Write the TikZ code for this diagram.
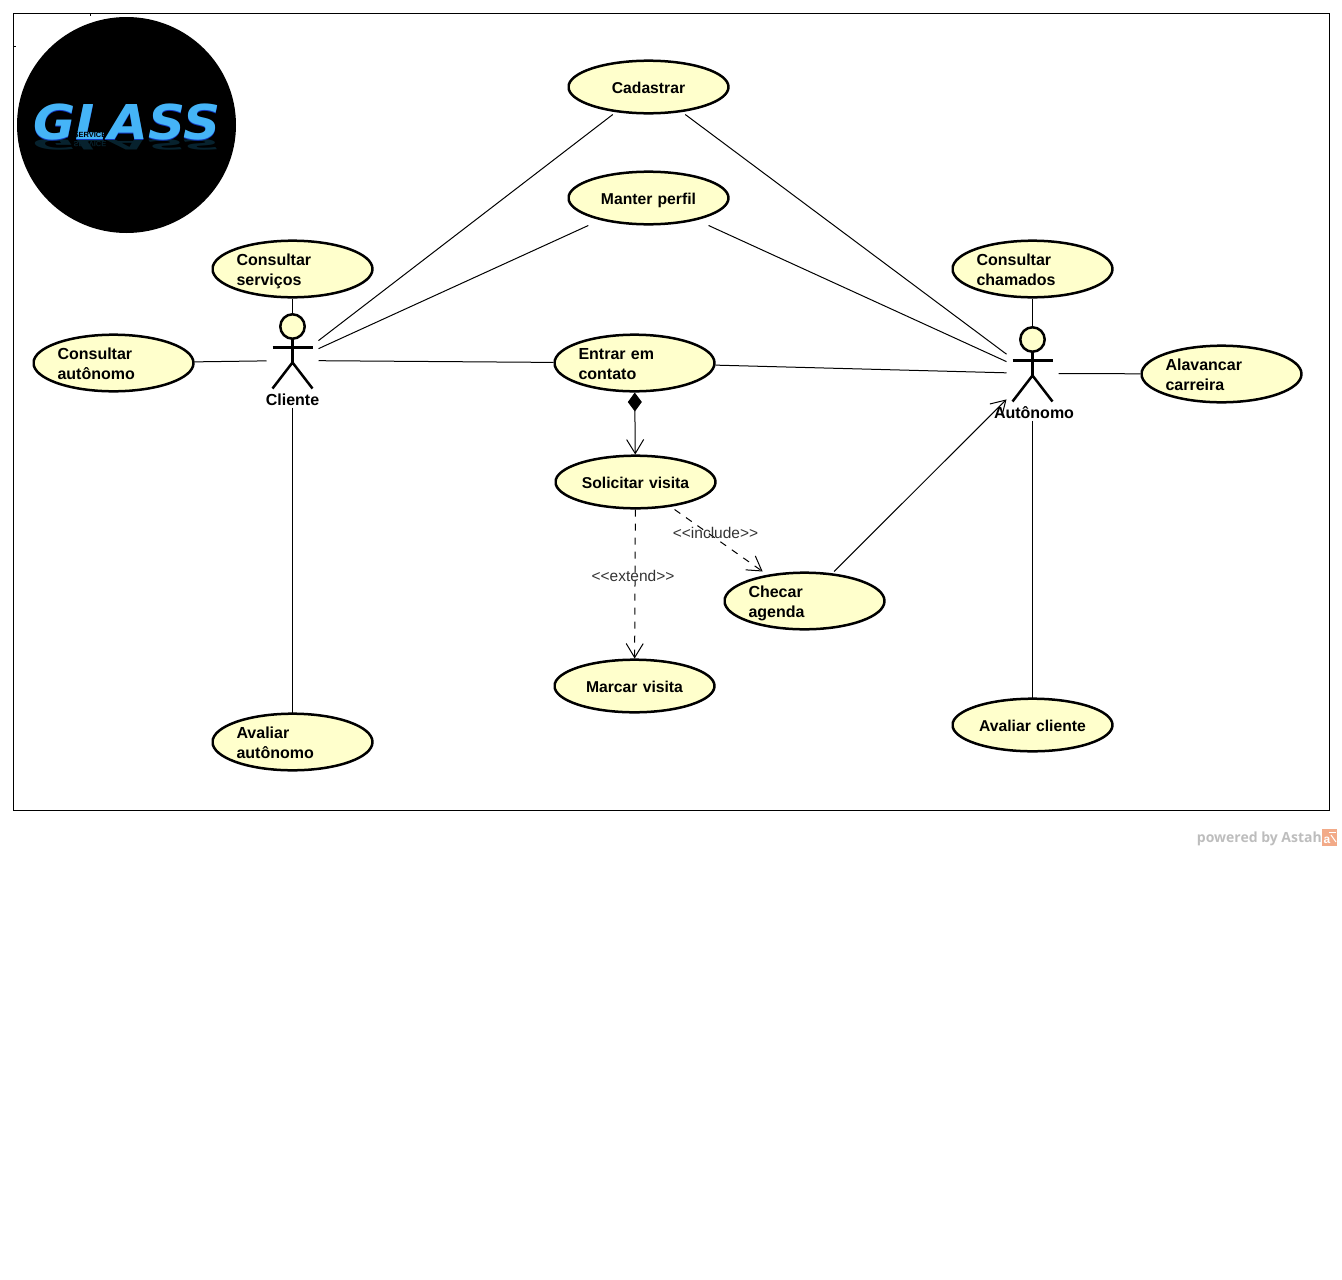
\documentclass[tikz,border=0pt]{standalone}
\usepackage{fontspec}
\setmainfont{Liberation Sans}
\newfontfamily\footfont{Open Sans}
\newfontfamily\logofont{DejaVu Sans}
\usetikzlibrary{shapes.geometric,arrows.meta}
\definecolor{casefill}{HTML}{FFFFCC}
\definecolor{glassblue}{HTML}{45B4F7}
\definecolor{glassdark}{HTML}{1238C0}
\definecolor{glassshade}{HTML}{07222E}
\definecolor{footgray}{HTML}{BDBDBD}
\definecolor{footorange}{HTML}{F2AA88}
\tikzset{
  usecase/.style={rectangle,outer sep=0pt,inner sep=0pt,minimum width=162pt,text width=112pt},
  caseone/.style={usecase,minimum height=55pt,align=center,font=\fontsize{15.7}{20}\selectfont\bfseries,
    execute at begin node={\rule[-4pt]{0pt}{21.4pt}},
    path picture={\draw[line width=2.5pt,fill=casefill] (path picture bounding box.center) ellipse (80 and 26.3);}},
  casetwo/.style={usecase,minimum height=59pt,align=left,font=\fontsize{16}{20}\selectfont\bfseries,
    execute at begin node={\rule{0pt}{17pt}},execute at end node={\rule[-4pt]{0pt}{0pt}},
    path picture={\draw[line width=2.5pt,fill=casefill] (path picture bounding box.center) ellipse (80 and 28.3);}},
  actorbox/.style={rectangle,inner sep=0pt,outer sep=0pt,minimum width=52pt,minimum height=94pt},
  actorname/.style={inner sep=0pt,font=\fontsize{16}{20}\selectfont\bfseries},
  stereotype/.style={inner sep=0pt,text=black!80,font=\fontsize{15.5}{18}\selectfont},
  assoc/.style={line width=1pt},
  openhead/.style={line width=1pt,-{Straight Barb[length=14pt,width=17pt]}},
  deppath/.style={openhead,dash pattern=on 7pt off 7pt}
}
\begin{document}
\begin{tikzpicture}[x=1pt,y=-1pt]
\useasboundingbox (0,0) rectangle (1342,1280);
% frame
\draw[line width=1pt] (13.5,13.5) rectangle (1329.5,810.5);
\draw[line width=1pt] (90.5,13.5)--(90.5,16);
\draw[line width=1pt] (13.5,46.5)--(16,46.5);
% logo
\node[ellipse,fill=black,inner sep=0pt,minimum width=219pt,minimum height=216pt] (logo) at (126.5,125) {};
\node[inner sep=0pt,text=glassshade,font=\logofont\fontsize{48}{48}\selectfont\bfseries\itshape,xscale=1.07,yscale=-0.3,transform shape] (glassmirror) at (126.5,145) {GLASS};
\node[inner sep=0pt,text=glassdark,font=\logofont\fontsize{48}{48}\selectfont\bfseries\itshape,xscale=1.07,transform shape] (glassback) at (127,123.5) {GLASS};
\node[inner sep=0pt,text=glassblue,font=\logofont\fontsize{48}{48}\selectfont\bfseries\itshape,xscale=1.07,transform shape] (glass) at (127,122.5) {GLASS};
\node[inner sep=0pt,text=black,font=\fontsize{7.5}{8}\selectfont\bfseries] (service) at (90,134.5) {SERVICE};
\node[inner sep=0pt,text=glassshade,font=\fontsize{7.5}{8}\selectfont\bfseries,yscale=-1,transform shape] (servicemirror) at (90,144) {SERVICE};
% use cases
\node[caseone] (cadastrar) at (648.5,87) {Cadastrar};
\node[caseone] (manter) at (648.5,198) {Manter perfil};
\node[casetwo] (servicos) at (292.5,269) {Consultar\\servi\c{c}os};
\node[casetwo] (consautonomo) at (113.5,363) {Consultar\\aut\^onomo};
\node[casetwo] (entrar) at (634.5,363) {Entrar em\\contato};
\node[caseone] (solicitar) at (635.5,482) {Solicitar visita};
\node[casetwo] (checar) at (804.5,601) {Checar\\agenda};
\node[caseone] (marcar) at (634.5,686) {Marcar visita};
\node[casetwo] (avalautonomo) at (292.5,742) {Avaliar\\aut\^onomo};
\node[casetwo] (chamados) at (1032.5,269) {Consultar\\chamados};
\node[casetwo] (carreira) at (1221.5,374) {Alavancar\\carreira};
\node[caseone] (avalcliente) at (1032.5,725) {Avaliar cliente};
% actors
\node[actorbox] (cliente) at (292.5,360.5) {};
\node[actorbox] (autonomo) at (1032.5,373.5) {};
\foreach \xa/\ya in {292.5/326.5,1032.5/339.5}{
  \draw[line width=2.5pt,fill=casefill] (\xa,\ya) circle (12.2);
  \draw[line width=2.5pt] (\xa-20,\ya+21)--(\xa+20,\ya+21);
  \draw[line width=2.5pt] (\xa,\ya+12)--(\xa,\ya+36);
  \draw[line width=2.5pt] (\xa-20,\ya+62)--(\xa,\ya+36)--(\xa+20,\ya+62);
}
\node[actorname] (clientename) at (292.5,400) {Cliente};
\node[actorname] (autonomoname) at (1034,413) {Aut\^onomo};
% associations
\draw[assoc] (cliente)--(cadastrar);
\draw[assoc] (cliente)--(manter);
\draw[assoc] (cliente)--(servicos);
\draw[assoc] (cliente)--(consautonomo);
\draw[assoc] (cliente)--(entrar);
\draw[assoc] (cliente)--(avalautonomo);
\draw[assoc] (autonomo)--(cadastrar);
\draw[assoc] (autonomo)--(manter);
\draw[assoc] (autonomo)--(chamados);
\draw[assoc] (autonomo)--(entrar);
\draw[assoc] (autonomo)--(carreira);
\draw[assoc] (autonomo)--(avalcliente);
\draw[openhead] (checar)--(autonomo);
\draw[line width=1pt,{Diamond[length=19pt,width=14pt]}-{Straight Barb[length=14pt,width=17pt]}] (entrar)--(solicitar);
\draw[deppath] (solicitar)--(checar);
\draw[deppath] (solicitar)--(marcar);
\node[stereotype] (includelabel) at (715.5,533) {<{}<include>{}>};
\node[stereotype] (extendlabel) at (633,576) {<{}<extend>{}>};
% footer
\node[anchor=east,inner sep=0pt,text=footgray,font=\footfont\fontsize{14}{16}\selectfont\bfseries] (powered) at (1322,839) {powered by Astah};
\node[rectangle,fill=footorange,inner sep=0pt,minimum width=15pt,minimum height=17pt,anchor=west] (astahicon) at (1322,837.5) {};
\draw[white,line width=1pt] (1329,832)--(1336,832);
\draw[white,line width=1pt] (1331,835)--(1336,842);
\node[inner sep=0pt,text=white,font=\fontsize{12}{12}\selectfont\bfseries] (astaha) at (1327,840) {a};
\end{tikzpicture}
\end{document}
